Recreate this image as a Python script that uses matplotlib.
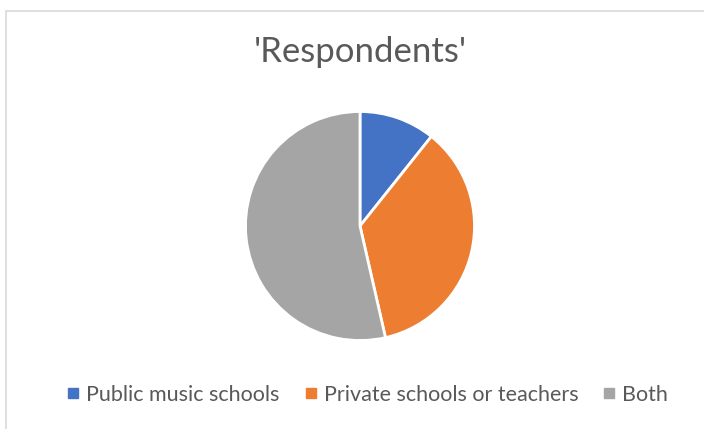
import matplotlib
matplotlib.use('Agg')
from matplotlib import pyplot as plt
from matplotlib.lines import Line2D
from matplotlib.patches import Rectangle

# Datos de la encuesta
categorias = ['Public music schools', 'Private schools or teachers', 'Both']
respuestas = [6, 20, 30]
colores = ['#4472C4', '#ED7D31', '#A5A5A5']

plt.rcParams['font.family'] = ['Lato', 'DejaVu Sans']
gris_texto = '#595959'

fig = plt.figure(figsize=(7.04, 4.29), dpi=100)

# Marco gris claro del area del grafico
fig.patches.append(Rectangle((5.5 / 704, -0.1), 1.2, (429 - 11) / 429 + 0.1,
                             transform=fig.transFigure, fill=False,
                             edgecolor='#D9D9D9', linewidth=1.2))

# Titulo
fig.text(360 / 704, 1 - 52 / 429, "'Respondents'", ha='center', va='center',
         fontsize=25, color=gris_texto)

# Grafico de pastel
ax = fig.add_axes([245.5 / 704, (429 - 340.5) / 429, 229 / 704, 229 / 429])
ax.pie(respuestas, colors=colores, startangle=90, counterclock=False,
       wedgeprops=dict(edgecolor='white', linewidth=2))
ax.set_xlim(-1.0, 1.0)
ax.set_ylim(-1.0, 1.0)
ax.set_aspect('equal')
ax.axis('off')

# Leyenda inferior
handles = [Line2D([], [], marker='s', linestyle='none', markersize=6.5,
                  markerfacecolor=c, markeredgecolor=c) for c in colores]
fig.legend(handles, categorias, loc='center', bbox_to_anchor=(368 / 704, 1 - 395 / 429),
           ncol=3, frameon=False, fontsize=15.5, labelcolor=gris_texto,
           handlelength=0.5, handletextpad=0.35, columnspacing=1.2)

fig.savefig('out.png', dpi=100)
